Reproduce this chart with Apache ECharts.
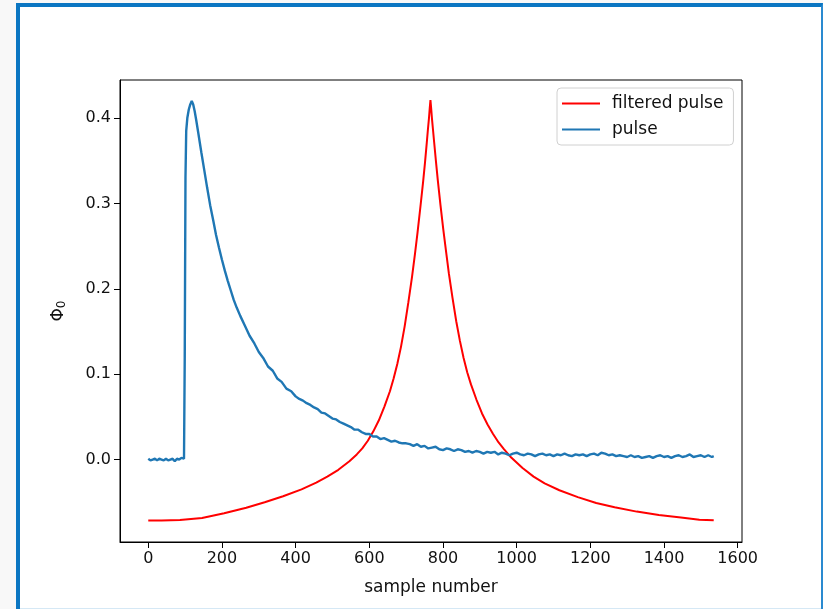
<!DOCTYPE html>
<html>
<head>
<meta charset="utf-8">
<script src="https://cdn.jsdelivr.net/npm/echarts@6/dist/echarts.min.js"></script>
<style>
  html, body { margin: 0; padding: 0; background: #f8f8f8; }
  #frame {
    position: absolute; left: 16px; top: 3px; width: 807px; height: 606px;
    background: #ffffff;
    border-left: 4px solid #0b76c2;
    border-top: 4px solid #0b76c2;
    border-right: 2px solid #2a8ad0;
    box-sizing: border-box;
  }
  #frame::after {
    content: ""; position: absolute; left: 0; right: 0; bottom: 0; height: 1px; background: #d5e8f5;
  }
  #chart { position: absolute; left: 0; top: 0; width: 823px; height: 609px; }
</style>
</head>
<body>
<div id="frame"></div>
<div id="chart"></div>
<script>
// x axis ticks and plotted range (sample index)
const xTicks = [0, 200, 400, 600, 800, 1000, 1200, 1400, 1600];
const xRange = [-76.75, 1611.75];
// y axis ticks and plotted range (flux quanta)
const yTicks = [0.0, 0.1, 0.2, 0.3, 0.4];
const yRange = [-0.0966, 0.4446];

// filtered pulse: sample index / amplitude
const filteredX = [0, 36, 86, 146, 206, 266, 316, 366, 416, 456, 486, 516, 546, 566, 581, 596, 611, 626, 641, 656, 666, 676, 686, 696, 706, 716, 724, 731, 739, 746, 751, 756, 759, 762, 764, 766,
  768, 770, 773, 776, 781, 786, 793, 801, 808, 816, 826, 836, 846, 856, 866, 876, 891, 906, 921, 936, 951, 966, 986, 1016, 1046, 1076, 1116, 1166, 1216, 1266, 1326, 1386, 1446, 1496, 1535];
const filteredY = [-0.0715, -0.0714, -0.0708, -0.0685, -0.0630, -0.0565, -0.0500, -0.0430, -0.0350, -0.0270, -0.0200, -0.0120, -0.0020, 0.0060, 0.0130, 0.0220, 0.0330, 0.0460, 0.0620, 0.0800, 0.0950, 0.1120, 0.1320, 0.1560, 0.1840, 0.2140, 0.2410, 0.2660, 0.2970, 0.3250, 0.3470, 0.3710, 0.3860, 0.4000, 0.4110, 0.4210,
  0.4110, 0.4000, 0.3860, 0.3720, 0.3490, 0.3270, 0.2990, 0.2690, 0.2450, 0.2180, 0.1890, 0.1620, 0.1390, 0.1190, 0.1020, 0.0880, 0.0700, 0.0540, 0.0410, 0.0300, 0.0200, 0.0120, 0.0020, -0.0100, -0.0200, -0.0280, -0.0360, -0.0440, -0.0510, -0.0560, -0.0610, -0.0650, -0.0680, -0.0705, -0.0712];

// raw pulse: sample index / amplitude
const pulseX = [0, 6, 12, 18, 24, 30, 36, 42, 48, 54, 60, 66, 72, 78, 84, 90, 94, 97, 99, 101, 103, 106, 110, 114, 118, 122, 126, 130, 136, 144, 152, 160, 168, 176, 184, 192, 200, 208, 216, 224, 232, 240, 250, 262, 275, 288, 300, 312, 325, 338, 350, 362, 375, 388,
  400, 410, 420, 430, 440, 450, 460, 470, 480, 490, 500, 510, 520, 530, 540, 550, 560, 570, 580, 590, 600, 610, 620, 630, 640, 650, 660, 670, 680, 690, 700, 710, 720, 730, 740, 750, 760, 770, 780, 790, 800, 810, 820, 830, 840, 850, 860, 870, 880, 890, 900, 910, 920, 930, 940, 950, 960, 970, 980, 990,
  1000, 1010, 1020, 1030, 1040, 1050, 1060, 1070, 1080, 1090, 1100, 1110, 1120, 1130, 1140, 1150, 1160, 1170, 1180, 1190, 1200, 1210, 1220, 1230, 1240, 1250, 1260, 1270, 1280, 1290, 1300, 1310, 1320, 1330, 1340, 1350, 1360, 1370, 1380, 1390, 1400, 1410, 1420, 1430, 1440, 1450, 1460, 1470, 1480, 1490, 1500, 1510, 1520, 1530, 1535];
const pulseY = [0.001, -0.001, 0.000, 0.001, -0.001, 0.001, 0.000, -0.001, 0.001, -0.001, 0.000, 0.001, -0.002, 0.001, 0.000, 0.002, 0.003, 0.001, 0.120, 0.330, 0.385, 0.400, 0.410, 0.416, 0.420, 0.416, 0.408, 0.398, 0.382, 0.360, 0.339, 0.318, 0.298, 0.281, 0.263, 0.248, 0.234, 0.221, 0.209, 0.198, 0.187, 0.178, 0.168, 0.157, 0.145, 0.136, 0.126, 0.119, 0.109, 0.104, 0.095, 0.091, 0.083, 0.080,
  0.074, 0.071, 0.069, 0.066, 0.064, 0.061, 0.059, 0.055, 0.054, 0.051, 0.048, 0.047, 0.044, 0.042, 0.040, 0.038, 0.035, 0.035, 0.032, 0.030, 0.030, 0.027, 0.027, 0.024, 0.025, 0.023, 0.021, 0.022, 0.020, 0.019,
  0.019, 0.018, 0.016, 0.018, 0.015, 0.016, 0.013, 0.014, 0.015, 0.012, 0.011, 0.013, 0.012, 0.010, 0.012, 0.011, 0.009, 0.010, 0.008, 0.010, 0.009, 0.007, 0.009, 0.008, 0.009, 0.006, 0.008, 0.007, 0.005, 0.007,
  0.008, 0.006, 0.005, 0.007, 0.006, 0.004, 0.006, 0.007, 0.005, 0.006, 0.004, 0.006, 0.005, 0.007, 0.005, 0.004, 0.006, 0.005, 0.006, 0.004, 0.006, 0.007, 0.005, 0.008, 0.007, 0.005, 0.006, 0.004, 0.005, 0.004, 0.003, 0.005, 0.003, 0.004, 0.002, 0.003, 0.004, 0.002, 0.004, 0.005, 0.003, 0.004, 0.002, 0.004, 0.005, 0.003, 0.004, 0.006, 0.003, 0.004, 0.005, 0.003, 0.005, 0.003, 0.004];

const zip = (xs, ys) => xs.map((x, i) => [x, ys[i]]);

const font = 'DejaVu Sans';
const ink = '#111';
const chart = echarts.init(document.getElementById('chart'), null, { renderer: 'canvas' });
chart.setOption({
  animation: false,
  backgroundColor: 'transparent',
  textStyle: { fontFamily: font },
  grid: {
    left: 120, top: 80, right: 81, bottom: 67,
    show: true, borderColor: '#000', borderWidth: 1, backgroundColor: 'transparent'
  },
  legend: {
    data: ['filtered pulse', 'pulse'],
    orient: 'vertical',
    left: 557, top: 88,
    itemWidth: 38, itemHeight: 2, itemGap: 9,
    padding: [7, 10, 7, 5],
    borderColor: '#d0d0d0', borderWidth: 1, borderRadius: 4,
    backgroundColor: 'rgba(255,255,255,0.8)',
    icon: 'rect',
    textStyle: { fontFamily: font, fontSize: 17, color: ink, padding: [0, 0, 0, 7] }
  },
  xAxis: {
    type: 'value', min: xRange[0], max: xRange[1],
    name: 'sample number', nameLocation: 'middle', nameGap: 37,
    nameTextStyle: { fontFamily: font, fontSize: 17, color: ink },
    axisLine: { show: true, onZero: false, lineStyle: { color: '#000', width: 1 } },
    axisTick: { show: true, inside: false, length: 6, customValues: xTicks, lineStyle: { color: '#000' } },
    axisLabel: { customValues: xTicks, fontFamily: font, fontSize: 16, color: ink, margin: 9,
      formatter: v => String(Math.round(v)) },
    splitLine: { show: false }
  },
  yAxis: {
    type: 'value', min: yRange[0], max: yRange[1],
    name: '{phi|Φ}{sub|0}', nameLocation: 'middle', nameGap: 52, nameRotate: 90,
    nameTextStyle: {
      fontFamily: font, color: ink,
      rich: {
        phi: { fontFamily: font, fontSize: 17, color: ink },
        sub: { fontFamily: font, fontSize: 12, color: ink, padding: [6, 0, 0, 0] }
      }
    },
    axisLine: { show: true, onZero: false, lineStyle: { color: '#000', width: 1 } },
    axisTick: { show: true, inside: false, length: 6, customValues: yTicks, lineStyle: { color: '#000' } },
    axisLabel: { customValues: yTicks, fontFamily: font, fontSize: 16, color: ink, margin: 9,
      formatter: v => v.toFixed(1) },
    splitLine: { show: false }
  },
  series: [
    {
      name: 'filtered pulse', type: 'line', data: zip(filteredX, filteredY),
      showSymbol: false, symbol: 'none', smooth: false,
      lineStyle: { color: '#ff0000', width: 2 }, itemStyle: { color: '#ff0000' }, z: 2
    },
    {
      name: 'pulse', type: 'line', data: zip(pulseX, pulseY),
      showSymbol: false, symbol: 'none', smooth: false,
      lineStyle: { color: '#1f77b4', width: 2.4 }, itemStyle: { color: '#1f77b4' }, z: 3
    }
  ]
});
</script>
</body>
</html>
